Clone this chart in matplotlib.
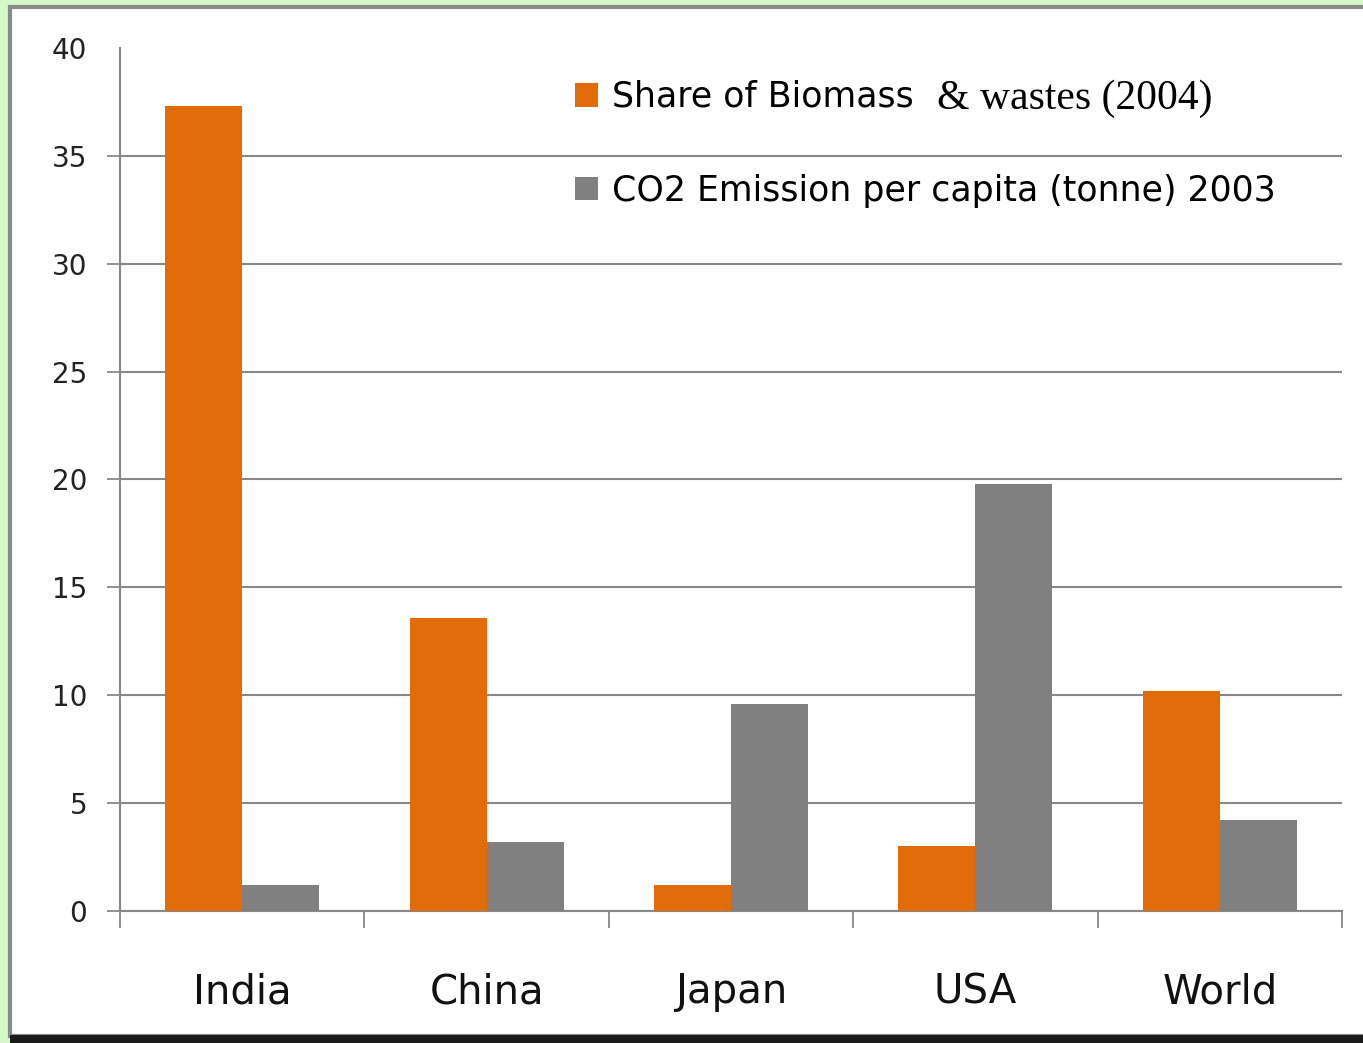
import matplotlib.pyplot as plt
import numpy as np
from matplotlib.patches import Rectangle

# data
countries = ["India", "China", "Japan", "USA", "World"]
biomass_share = [37.3, 13.6, 1.2, 3.0, 10.2]
co2_per_capita = [1.2, 3.2, 9.6, 19.8, 4.2]
y_ticks = [0, 5, 10, 15, 20, 25, 30, 35, 40]

ORANGE = "#E36C0A"
GREY = "#808080"
GRID = "#888888"

W, H = 1363, 1043
fig = plt.figure(figsize=(W / 100, H / 100), dpi=100)
fig.patch.set_facecolor("#d4f8c8")

# white panel with a grey/dark frame, kept behind the axes
fig.patches.append(Rectangle((10 / W, 7 / H), (W - 6) / W, (1036 - 7) / H,
                             transform=fig.transFigure, facecolor="white",
                             edgecolor="#8a8a8a", lw=3, zorder=-2))
fig.patches.append(Rectangle((10 / W, 0), 1, 8 / H, transform=fig.transFigure,
                             facecolor="#1a1a1a", edgecolor="none", zorder=-1))

ax = fig.add_axes([120 / W, (H - 911) / H, (1342 - 120) / W, (911 - 48) / H])
ax.set_facecolor("none")

x = np.arange(len(countries))
bw = 0.315
ax.bar(x - bw / 2, biomass_share, bw, color=ORANGE, zorder=3,
       label="Share of Biomass")
ax.bar(x + bw / 2, co2_per_capita, bw, color=GREY, zorder=3,
       label="CO2 Emission per capita (tonne) 2003")

ax.set_xlim(-0.5, len(countries) - 0.5)
ax.set_ylim(0, 40)
ax.set_yticks(y_ticks)
ax.yaxis.grid(True, color=GRID, lw=1.5, zorder=1)
# no gridline or tick mark at the top value
top = ax.yaxis.get_major_ticks()[-1]
top.gridline.set_visible(False)
top.tick1line.set_visible(False)

for s in ["top", "right"]:
    ax.spines[s].set_visible(False)
ax.spines["left"].set_color(GRID)
ax.spines["left"].set_linewidth(1.5)
ax.spines["bottom"].set_color(GRID)
ax.spines["bottom"].set_linewidth(1.5)

font = "DejaVu Sans"
ax.tick_params(axis="y", length=9.5, width=1.3, color=GRID, pad=14,
               labelsize=20, labelcolor="#222222")
for lab in ax.get_yticklabels():
    lab.set_fontfamily(font)

# boundary ticks below the axis, labels centred under each group
ax.set_xticks(np.arange(len(countries) + 1) - 0.5)
ax.set_xticklabels([])
ax.tick_params(axis="x", which="major", direction="out", length=12,
               width=1.3, color=GRID)
ax.set_xticks(x, minor=True)
ax.set_xticklabels(countries, minor=True, fontsize=29, fontfamily=font,
                   color="#111111")
ax.tick_params(axis="x", which="minor", length=0, pad=44)

leg = ax.legend(loc="upper left", bbox_to_anchor=(0.372, 0.963), frameon=False,
                prop={"family": font, "size": 25}, handlelength=0.67,
                handleheight=0.67, handletextpad=0.4, labelspacing=1.72,
                borderpad=0, borderaxespad=0)

# second half of the first legend entry is set in a serif face
fig.canvas.draw()
t0 = leg.get_texts()[0]
bb = t0.get_window_extent()
fig.text((bb.x1 + 24) / W, (bb.y0 + bb.y1) / 2 / H - 2 / H, "& wastes (2004)",
         family="Liberation Serif", fontsize=30, va="center", ha="left",
         color="black")

fig.savefig("out.png", dpi=100, facecolor=fig.get_facecolor())
